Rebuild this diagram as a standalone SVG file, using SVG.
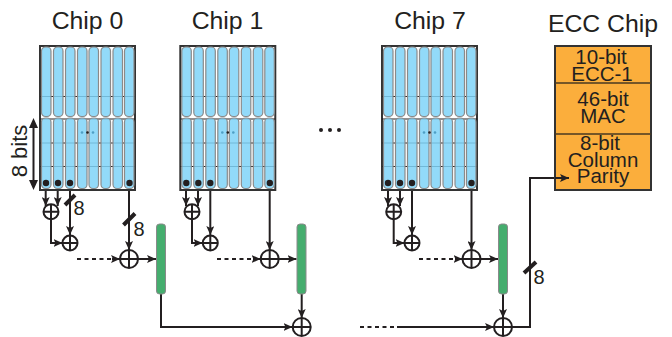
<svg xmlns="http://www.w3.org/2000/svg" width="672" height="337" viewBox="0 0 672 337">
<style>
text{font-family:"Liberation Sans",Arial,sans-serif;fill:#231f20;text-anchor:middle}
.t{font-size:24.800px}.e{font-size:20.500px}.n{font-size:20px}.b{font-size:22px}
.cell{fill:#7fd4f8;fill-opacity:.85;stroke:#8a8a8a;stroke-width:1.200}
.grid{stroke:#231f20;stroke-width:1;fill:none}
.frame{fill:#fff;stroke:#333;stroke-width:2}
.w{fill:none;stroke:#231f20;stroke-width:2}
.dash{stroke-dasharray:4 3.500}
.x{fill:#fff;stroke:#231f20;stroke-width:2}
.xl{stroke:#231f20;stroke-width:2}
.s{stroke:#231f20;stroke-width:4}
.g{fill:#45ad6e;stroke:#8a8a8a;stroke-width:1}
</style>
<defs>
<marker id="a" markerUnits="userSpaceOnUse" markerWidth="10" markerHeight="8" refX="9" refY="4" orient="auto"><path d="M0 0L9 4L0 8L2 4Z" fill="#231f20"/></marker>
<g id="chip">
<rect class="frame" x="0" y="0" width="95" height="144"/>
<path class="grid" d="M0 50.500H95M0 73H95M0 97H95M0 120.500H95"/>
<g id="bars">
<rect class="cell" x="1.500" y="1" width="9.500" height="69.500" rx="4"/><rect class="cell" x="13.500" y="1" width="9.500" height="69.500" rx="4"/><rect class="cell" x="25.500" y="1" width="9.500" height="69.500" rx="4"/><rect class="cell" x="37.500" y="1" width="9.500" height="69.500" rx="4"/><rect class="cell" x="49" y="1" width="9.500" height="69.500" rx="4"/><rect class="cell" x="61" y="1" width="9.500" height="69.500" rx="4"/><rect class="cell" x="73" y="1" width="9.500" height="69.500" rx="4"/><rect class="cell" x="84.500" y="1" width="9.500" height="69.500" rx="4"/>
<rect class="cell" x="1.500" y="72" width="9.500" height="70.500" rx="4"/><rect class="cell" x="13.500" y="72" width="9.500" height="70.500" rx="4"/><rect class="cell" x="25.500" y="72" width="9.500" height="70.500" rx="4"/><rect class="cell" x="37.500" y="72" width="9.500" height="70.500" rx="4"/><rect class="cell" x="49" y="72" width="9.500" height="70.500" rx="4"/><rect class="cell" x="61" y="72" width="9.500" height="70.500" rx="4"/><rect class="cell" x="73" y="72" width="9.500" height="70.500" rx="4"/><rect class="cell" x="84.500" y="72" width="9.500" height="70.500" rx="4"/>
</g>
<circle cx="42" cy="86.500" r="1.300" fill="#4f9fc4"/><circle cx="47.500" cy="86.500" r="1.300" fill="#231f20"/><circle cx="53" cy="86.500" r="1.300" fill="#4f9fc4"/>
<g fill="#231f20"><circle cx="6" cy="137" r="3.200"/><circle cx="18" cy="137" r="3.200"/><circle cx="30" cy="137" r="3.200"/><circle cx="89.500" cy="137" r="3.200"/></g>
</g>
<g id="xs"><circle class="x" r="7.500"/><path class="xl" d="M-7.500 0H7.500M0 -7.500V7.500"/></g>
<g id="xb"><circle class="x" r="9"/><path class="xl" d="M-9 0H9M0 -9V9"/></g>
</defs>

<g id="connectors">
<g id="wires-0">
<path class="w" d="M45.700 183V206" marker-end="url(#a)"/><path class="w" d="M57.700 183V206" marker-end="url(#a)"/>
<path class="w" d="M70 183V235" marker-end="url(#a)"/><path class="w" d="M129 183V250" marker-end="url(#a)"/>
<path class="w" d="M51 219V243H62.500" marker-end="url(#a)"/>
<path class="w dash" d="M77 259H113"/><path class="w" d="M112 259H120" marker-end="url(#a)"/>
<path class="w" d="M138 259H156" marker-end="url(#a)"/>
<path class="w" d="M161 294V327H292.500" marker-end="url(#a)"/>
<path class="s" d="M65 205L75 195M123.500 225L135 213.500"/>
</g>
<g id="wires-1">
<path class="w" d="M186 183V206" marker-end="url(#a)"/><path class="w" d="M198 183V206" marker-end="url(#a)"/>
<path class="w" d="M210.300 183V235" marker-end="url(#a)"/><path class="w" d="M269.700 183V250" marker-end="url(#a)"/>
<path class="w" d="M192 219V243H202.500" marker-end="url(#a)"/>
<path class="w dash" d="M217 259H254"/><path class="w" d="M253 259H260.500" marker-end="url(#a)"/>
<path class="w" d="M279 259H296.500" marker-end="url(#a)"/>
<path class="w" d="M301.700 294V318" marker-end="url(#a)"/>
</g>
<g id="wires-7">
<path class="w" d="M388 183V206" marker-end="url(#a)"/><path class="w" d="M400 183V206" marker-end="url(#a)"/>
<path class="w" d="M412 183V235" marker-end="url(#a)"/><path class="w" d="M471.500 183V250" marker-end="url(#a)"/>
<path class="w" d="M393.700 219V243H404.500" marker-end="url(#a)"/>
<path class="w dash" d="M419 259H456"/><path class="w" d="M455 259H462.500" marker-end="url(#a)"/>
<path class="w" d="M481 259H498" marker-end="url(#a)"/>
<path class="w" d="M503 294V318" marker-end="url(#a)"/>
<path class="w dash" d="M360 327H397"/><path class="w" d="M397 327H494" marker-end="url(#a)"/>
<path class="w" d="M512 327H530V178H556"/>
<path class="s" d="M524 273L536 262"/>
</g>
<g id="bits-arrow"><path class="w" d="M33.500 124V184"/><path d="M33.500 118L38 128H29ZM33.500 190L38 180H29Z" fill="#231f20"/></g>
</g>

<g id="chip0"><text class="t" x="87.500" y="29">Chip 0</text><use href="#chip" x="40" y="46"/></g>
<g id="chip1"><text class="t" x="227.500" y="29">Chip 1</text><use href="#chip" x="180.300" y="46"/></g>
<g id="chip7"><text class="t" x="430" y="29">Chip 7</text><use href="#chip" x="382" y="46"/></g>

<g id="xors">
<use href="#xs" x="51" y="211.700"/><use href="#xs" x="70" y="243"/><use href="#xb" x="129" y="259"/>
<use href="#xs" x="192" y="211.700"/><use href="#xs" x="210.300" y="243"/><use href="#xb" x="269.700" y="259"/>
<use href="#xs" x="393.700" y="211.700"/><use href="#xs" x="412" y="243"/><use href="#xb" x="471.500" y="259"/>
<use href="#xb" x="301.700" y="327"/><use href="#xb" x="503" y="327"/>
</g>

<g id="latch0"><rect class="g" x="156.500" y="224" width="9" height="70" rx="3"/></g>
<g id="latch1"><rect class="g" x="297" y="224" width="9" height="70" rx="3"/></g>
<g id="latch7"><rect class="g" x="498.500" y="224" width="9" height="70" rx="3"/></g>

<g id="ecc-chip">
<text class="t" x="603" y="32">ECC Chip</text>
<rect x="555" y="46" width="96" height="144" fill="#fbae3c" stroke="#333" stroke-width="2"/>
<path d="M555 83H651M555 134H651" stroke="#4a3a20" stroke-width="1.500"/>
<text class="e" x="601" y="64">10-bit</text><text class="e" x="602" y="80.500">ECC-1</text>
<text class="e" x="603" y="106">46-bit</text><text class="e" x="603" y="123">MAC</text>
<text class="e" x="600" y="149.500">8-bit</text><text class="e" x="603" y="167">Column</text><text class="e" x="603" y="183">Parity</text>
<path class="w" d="M555 178H569" marker-end="url(#a)"/>
</g>

<g id="labels">
<text class="n" x="79" y="215">8</text><text class="n" x="139" y="236">8</text><text class="n" x="539" y="284">8</text>
<text class="b" transform="translate(27 151) rotate(-90)">8 bits</text>
<g fill="#231f20"><circle cx="321" cy="130" r="2"/><circle cx="330" cy="130" r="2"/><circle cx="339" cy="130" r="2"/></g>
</g>
</svg>
